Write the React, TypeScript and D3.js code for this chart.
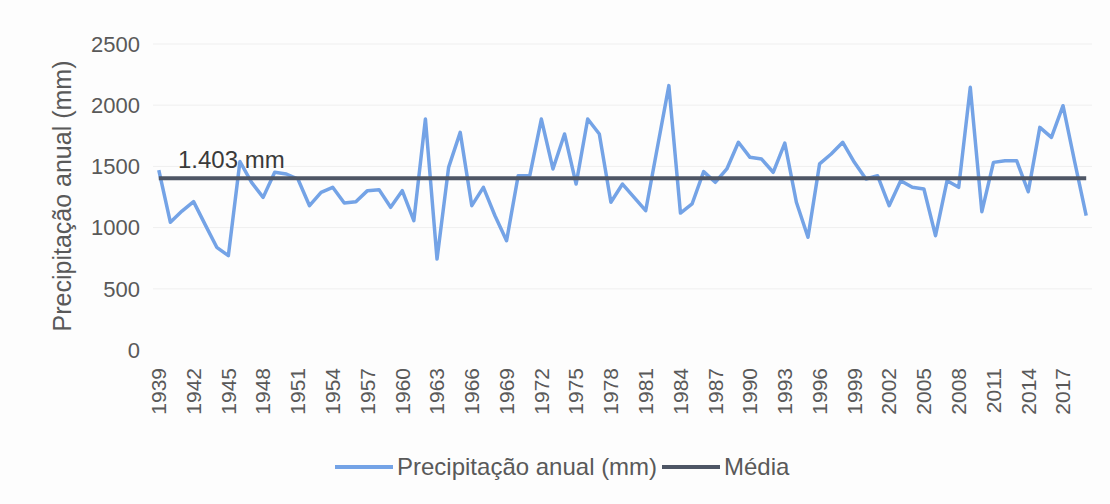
import * as React from "react";
import * as d3 from "d3";

const years: number[] = d3.range(1939, 2020);

// annual precipitation (mm), 1939..2019
const precipitation: number[] = [
  1470, 1043, 1135, 1212, 1024, 839, 771, 1540, 1370, 1247,
  1452, 1438, 1397, 1179, 1288, 1329, 1201, 1212, 1302, 1310,
  1166, 1302, 1057, 1887, 743, 1492, 1778, 1179, 1329, 1097,
  893, 1424, 1424, 1887, 1479, 1765, 1356, 1887, 1765, 1207,
  1356, 1247, 1138, 1650, 2160, 1119, 1193, 1457, 1370, 1479,
  1697, 1574, 1560, 1452, 1691, 1207, 921, 1520, 1601, 1697,
  1533, 1397, 1424, 1179, 1383, 1329, 1315, 934, 1383, 1329,
  2146, 1130, 1533, 1547, 1547, 1293, 1819, 1737, 1996, 1540,
  1097,
];

const MEDIA = 1403;
const mediaLabel = "1.403 mm";
const yTicks = [0, 500, 1000, 1500, 2000, 2500];
const tickYears = years.filter((y, i) => i % 3 === 0 && y <= 2017);
const seriesNames = ["Precipitação anual (mm)", "Média"];

const W = 1110,
  H = 504;
const FONT = "'Liberation Sans', Arial, sans-serif";
const BLUE = "#74a3e6";
const DARK = "#4e5665";
const GREY = "#595959";

export default function App() {
  const ref = React.useRef<SVGSVGElement>(null);

  React.useEffect(() => {
    if (!ref.current) return;
    const svg = d3.select(ref.current);
    svg.selectAll("*").remove();

    svg.append("rect").attr("width", W).attr("height", H).attr("fill", "#fdfdfd");

    const x = d3
      .scaleBand<number>()
      .domain(years)
      .range([153, 1092]);
    const cx = (yr: number) => (x(yr) as number) + x.bandwidth() / 2;

    const y = d3.scaleLinear().domain([0, 2500]).range([350, 44]);

    // faint gridlines
    svg
      .append("g")
      .selectAll("line")
      .data(yTicks.slice(1))
      .enter()
      .append("line")
      .attr("x1", 153)
      .attr("x2", 1092)
      .attr("y1", d => y(d))
      .attr("y2", d => y(d))
      .attr("stroke", "#efefef")
      .attr("stroke-width", 1);

    // y tick labels
    svg
      .append("g")
      .selectAll("text")
      .data(yTicks)
      .enter()
      .append("text")
      .attr("x", 140)
      .attr("y", d => y(d))
      .attr("dy", "0.35em")
      .attr("text-anchor", "end")
      .attr("font-family", FONT)
      .attr("font-size", 22)
      .attr("fill", GREY)
      .text(d => d);

    // y axis title
    svg
      .append("text")
      .attr("transform", "translate(62,196) rotate(-90)")
      .attr("dy", "0.35em")
      .attr("text-anchor", "middle")
      .attr("font-family", FONT)
      .attr("font-size", 25)
      .attr("fill", GREY)
      .text("Precipitação anual (mm)");

    // x tick labels (rotated)
    svg
      .append("g")
      .selectAll("text")
      .data(tickYears)
      .enter()
      .append("text")
      .attr("transform", d => `translate(${cx(d)},368) rotate(-90)`)
      .attr("dy", "0.35em")
      .attr("text-anchor", "end")
      .attr("font-family", FONT)
      .attr("font-size", 21)
      .attr("fill", GREY)
      .text(d => d);

    const line = d3
      .line<number>()
      .x((d, i) => cx(years[i]))
      .y(d => y(d));

    svg
      .append("path")
      .datum(precipitation)
      .attr("fill", "none")
      .attr("stroke", BLUE)
      .attr("stroke-width", 3.5)
      .attr("stroke-linejoin", "round")
      .attr("d", line);

    const mediaValues = years.map(() => MEDIA);
    svg
      .append("path")
      .datum(mediaValues)
      .attr("fill", "none")
      .attr("stroke", DARK)
      .attr("stroke-width", 4)
      .attr("d", line);

    svg
      .append("text")
      .attr("x", 178)
      .attr("y", y(MEDIA) - 10)
      .attr("font-family", FONT)
      .attr("font-size", 24)
      .attr("fill", "#3a3a3a")
      .text(mediaLabel);

    // legend
    const legend = svg.append("g").attr("transform", "translate(0,467)");
    const legendX = [335, 662];
    const legendColors = [BLUE, DARK];
    legend
      .selectAll("line")
      .data(seriesNames)
      .enter()
      .append("line")
      .attr("x1", (d, i) => legendX[i])
      .attr("x2", (d, i) => legendX[i] + 58)
      .attr("y1", 0)
      .attr("y2", 0)
      .attr("stroke", (d, i) => legendColors[i])
      .attr("stroke-width", 4);
    legend
      .selectAll("text")
      .data(seriesNames)
      .enter()
      .append("text")
      .attr("x", (d, i) => legendX[i] + 62)
      .attr("y", 0)
      .attr("dy", "0.35em")
      .attr("font-family", FONT)
      .attr("font-size", 24)
      .attr("fill", GREY)
      .text(d => d);
  }, []);

  return (
    <div style={{ position: "fixed", left: 0, top: 0 }}>
      <svg ref={ref} width={W} height={H} style={{ display: "block" }} />
    </div>
  );
}
